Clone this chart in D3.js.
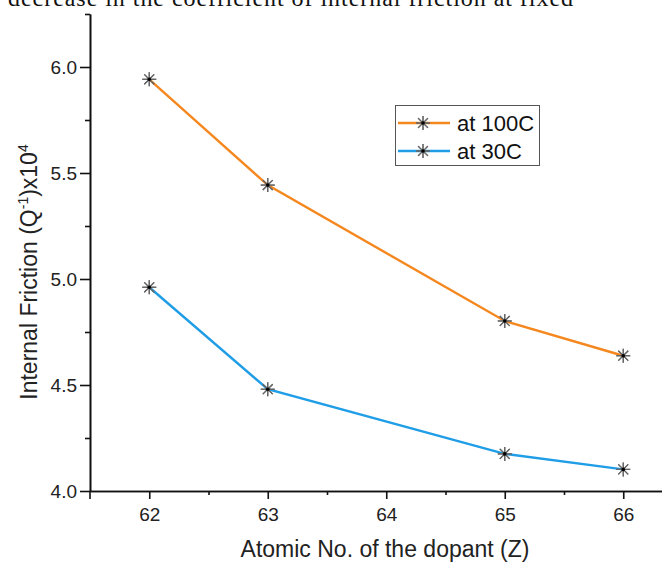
<!DOCTYPE html>
<html>
<head>
<meta charset="utf-8">
<script src="https://cdn.jsdelivr.net/npm/d3@7"></script>
<style>
  body { margin: 0; background: #fff; }
  svg { display: block; }
</style>
</head>
<body>
<div id="chart"></div>
<script>
// data
const atomicNo = [62, 63, 65, 66];
const at100C = [5.942, 5.443, 4.802, 4.638];
const at30C = [4.961, 4.480, 4.175, 4.102];
const seriesNames = ["at 100C", "at 30C"];
const seriesColors = ["#f5871f", "#1f9de6"];
const xTicks = [62, 63, 64, 65, 66];
const xMinor = [62.5, 63.5, 64.5, 65.5];
const yTicks = [4.0, 4.5, 5.0, 5.5, 6.0];
const yMinor = [4.25, 4.75, 5.25, 5.75, 6.25];

const width = 662, height = 563;
const sans = "'Liberation Sans', Arial, sans-serif";

const svg = d3.select("#chart").append("svg")
    .attr("width", width)
    .attr("height", height);

// cut-off caption line from the page above the figure
svg.append("text")
    .attr("x", 8)
    .attr("y", 6)
    .attr("textLength", 565)
    .style("font-family", "'Liberation Serif', 'Times New Roman', serif")
    .style("font-size", "24px")
    .style("fill", "#111")
    .text("decrease in the coefficient of internal friction at fixed");

const x = d3.scaleLinear().domain([61.5, 66.5]).range([90, 682.5]);
const y = d3.scaleLinear().domain([4.0, 6.25]).range([491, 14]);

function styleAxis(g) {
    g.selectAll("path, line").attr("stroke", "#111").attr("stroke-width", 1.6);
    g.selectAll("text")
        .attr("font-family", null).attr("font-size", null)
        .style("font-family", sans)
        .style("font-size", "19px")
        .style("fill", "#222");
    g.attr("font-size", null).attr("font-family", null);
}

// minor ticks
svg.append("g")
    .attr("transform", `translate(0,${y(4.0)})`)
    .call(d3.axisBottom(x).tickValues(xMinor).tickSize(4).tickSizeOuter(0).tickFormat(""))
    .call(styleAxis);
svg.append("g")
    .attr("transform", `translate(${x(61.5)},0)`)
    .call(d3.axisLeft(y).tickValues(yMinor).tickSize(5).tickSizeOuter(0).tickFormat(""))
    .call(styleAxis);

// major ticks
svg.append("g")
    .attr("transform", `translate(0,${y(4.0)})`)
    .call(d3.axisBottom(x).tickValues(xTicks).tickSize(8).tickSizeOuter(0).tickPadding(9).tickFormat(d3.format("d")))
    .call(styleAxis);
svg.append("g")
    .attr("transform", `translate(${x(61.5)},0)`)
    .call(d3.axisLeft(y).tickValues(yTicks).tickSize(10).tickSizeOuter(0).tickPadding(3).tickFormat(d3.format(".1f")))
    .call(styleAxis);

// small tick at the left end of the x axis
svg.append("line")
    .attr("x1", x(61.5)).attr("x2", x(61.5))
    .attr("y1", y(4.0)).attr("y2", y(4.0) + 8)
    .attr("stroke", "#111").attr("stroke-width", 1.6);

// axis titles
svg.append("text")
    .attr("x", 385)
    .attr("y", 557)
    .attr("text-anchor", "middle")
    .style("font-family", sans)
    .style("font-size", "23px")
    .style("fill", "#222")
    .text("Atomic No. of the dopant (Z)");

const yTitle = svg.append("text")
    .attr("transform", "translate(37,272) rotate(-90)")
    .attr("text-anchor", "middle")
    .style("font-family", sans)
    .style("font-size", "23px")
    .style("fill", "#222");
yTitle.append("tspan").text("Internal Friction (Q");
yTitle.append("tspan").attr("dy", -9).style("font-size", "14px").text("-1");
yTitle.append("tspan").attr("dy", 9).text(")x10");
yTitle.append("tspan").attr("dy", -9).style("font-size", "14px").text("4");

// lines and markers
const line = d3.line().x(d => x(d[0])).y(d => y(d[1]));
const series = [at100C, at30C].map(vals => atomicNo.map((z, i) => [z, vals[i]]));

function star(g, cx, cy) {
    const r = 7;
    d3.range(8).forEach(k => {
        const a = k * Math.PI / 4;
        g.append("line")
            .attr("x1", cx - r * Math.cos(a)).attr("y1", cy - r * Math.sin(a))
            .attr("x2", cx + r * Math.cos(a)).attr("y2", cy + r * Math.sin(a))
            .attr("stroke", "#666").attr("stroke-width", 1.2);
    });
    g.append("circle").attr("cx", cx).attr("cy", cy).attr("r", 1.8).attr("fill", "#000");
}

series.forEach((pts, i) => {
    svg.append("path")
        .datum(pts)
        .attr("d", line)
        .attr("fill", "none")
        .attr("stroke", seriesColors[i])
        .attr("stroke-width", 2.4);
    const g = svg.append("g");
    pts.forEach(p => star(g, x(p[0]), y(p[1])));
});

// legend
const legend = svg.append("g");
legend.append("rect")
    .attr("x", 395.5).attr("y", 105.5)
    .attr("width", 144).attr("height", 60)
    .attr("fill", "#fff").attr("stroke", "#555").attr("stroke-width", 1);

seriesNames.forEach((name, i) => {
    const ly = 123 + i * 28;
    legend.append("line")
        .attr("x1", 398).attr("x2", 450)
        .attr("y1", ly).attr("y2", ly)
        .attr("stroke", seriesColors[i]).attr("stroke-width", 2.4);
    star(legend, 423, ly);
    legend.append("text")
        .attr("x", 457).attr("y", ly + 8)
        .style("font-family", sans)
        .style("font-size", "22px")
        .style("fill", "#111")
        .text(name);
});
</script>
</body>
</html>
